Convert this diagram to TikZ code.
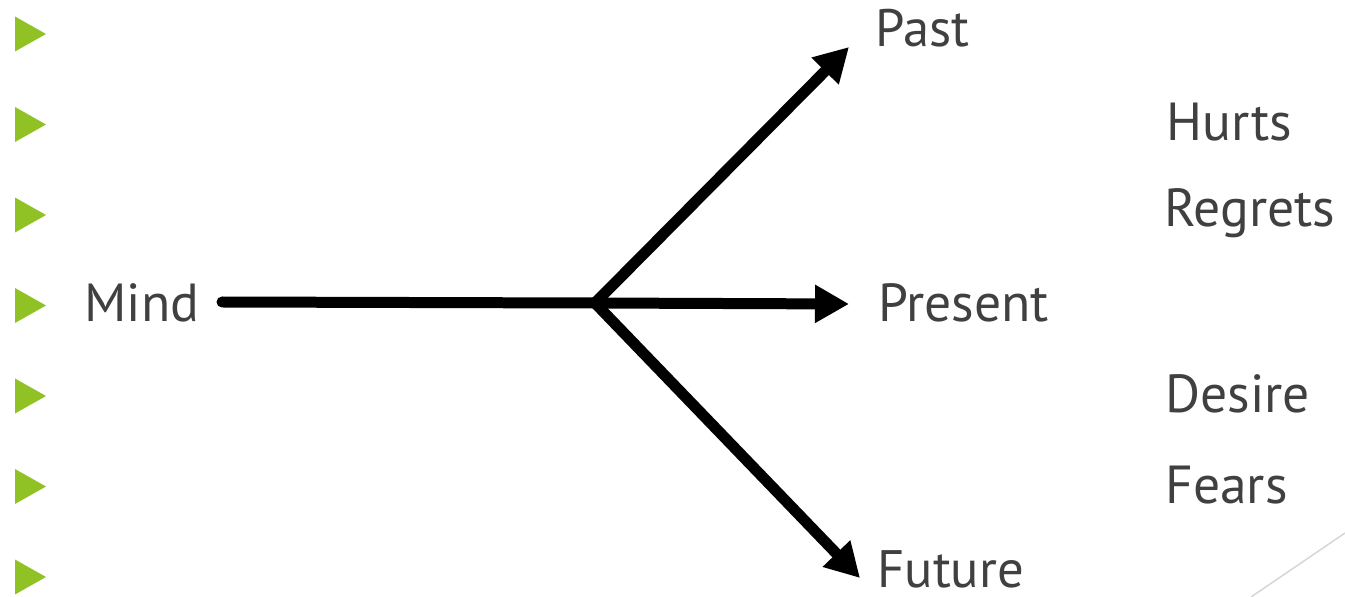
\documentclass[tikz,border=0pt]{standalone}
\usepackage{fontspec}
\setmainfont{PT Sans}
\usetikzlibrary{arrows.meta}
\definecolor{bulletgreen}{RGB}{144,194,38}
\definecolor{textgrey}{RGB}{64,64,64}
\definecolor{cornergrey}{RGB}{214,214,214}
\begin{document}
\begin{tikzpicture}[x=0.02cm, y=-0.02cm,
	word/.style={anchor=base west, inner sep=0pt, text=textgrey, font=\fontsize{30.5pt}{36pt}\selectfont},
	smallword/.style={word, font=\fontsize{30pt}{36pt}\selectfont},
	bullet/.style={fill=bulletgreen},
	branch/.style={line width=0.22cm, -{Triangle[length=0.68cm, width=0.72cm]}}]
	\useasboundingbox (0,0) rectangle (1345,597);
	% green bullets
	\fill[bullet] (15,16.5) -- (46,34) -- (15,51.5) -- cycle;
	\fill[bullet] (15,107) -- (46,124.5) -- (15,142) -- cycle;
	\fill[bullet] (15,197.5) -- (46,215) -- (15,232.5) -- cycle;
	\fill[bullet] (15,288) -- (46,305.5) -- (15,323) -- cycle;
	\fill[bullet] (15,378.5) -- (46,396) -- (15,413.5) -- cycle;
	\fill[bullet] (15,469) -- (46,486.5) -- (15,504) -- cycle;
	\fill[bullet] (15,559.5) -- (46,577) -- (15,594.5) -- cycle;
	% words
	\node[word] (mind) at (84,322) {Mind};
	\node[smallword] (past) at (875,47) {Past};
	\node[word] (present) at (878,321.7) {Present};
	\node[smallword] (future) at (877,587.3) {Future};
	\node[word] (hurts) at (1166,140.7) {Hurts};
	\node[word] (regrets) at (1164,226.7) {Regrets};
	\node[word] (desire) at (1165,412.7) {Desire};
	\node[word] (fears) at (1165,503.3) {Fears};
	% arrows
	\coordinate (mindend) at (222,302);
	\coordinate (hub) at (595,303);
	\coordinate (pasttip) at (849,47);
	\coordinate (presenttip) at (849,304);
	\coordinate (futuretip) at (860,578);
	\draw[line width=0.22cm, line cap=round] (mindend) -- (hub);
	\draw[branch] (hub) -- (pasttip);
	\draw[branch] (hub) -- (presenttip);
	\draw[branch] (hub) -- (futuretip);
	% corner line
	\coordinate (cornerlow) at (1251,597);
	\coordinate (cornerhigh) at (1345,533);
	\draw[cornergrey, line width=0.03cm] (cornerlow) -- (cornerhigh);
\end{tikzpicture}
\end{document}
